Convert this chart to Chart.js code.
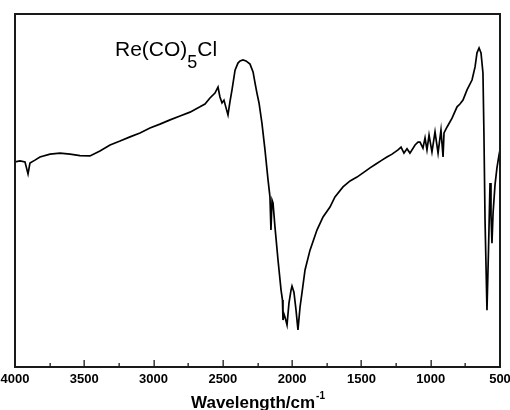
<!DOCTYPE html>
<html>
<head>
<meta charset="utf-8">
<script src="https://cdn.jsdelivr.net/npm/chart.js@4"></script>
<style>
  body { margin: 0; background: #fff; overflow: hidden; }
  canvas { display: block; }
</style>
</head>
<body>
<canvas id="myChart" width="510" height="410"></canvas>
<script>
// IR spectrum of Re(CO)5Cl
const wavenumber = [4000, 3964, 3928, 3906, 3892, 3856, 3820, 3747, 3675, 3603, 3531, 3459, 3387, 3314, 3242, 3170, 3098, 3026, 2954, 2881,
  2809, 2737, 2665, 2629, 2593, 2557, 2535, 2521, 2506, 2492, 2477, 2463, 2449, 2434, 2412, 2391, 2376, 2355, 2333, 2304,
  2282, 2268, 2254, 2239, 2218, 2196, 2174, 2160, 2153, 2145, 2138, 2124, 2102, 2080, 2070, 2066, 2059, 2052, 2037, 2023,
  2008, 2001, 1987, 1972, 1958, 1943, 1929, 1907, 1871, 1821, 1777, 1727, 1691, 1633, 1582, 1532, 1481, 1438, 1395, 1352,
  1316, 1279, 1236, 1214, 1193, 1171, 1150, 1113, 1092, 1077, 1056, 1041, 1027, 1012, 991, 969, 947, 926, 911, 904,
  882, 846, 810, 789, 767, 738, 702, 680, 666, 651, 637, 623, 616, 608, 594, 583, 572, 565, 558, 550,
  536, 522, 507, 500];
const transmittance = [58.1, 58.4, 58.1, 54.7, 57.8, 58.6, 59.5, 60.3, 60.6, 60.3, 59.9, 59.8, 61.2, 62.9, 64.0, 65.2, 66.3, 67.7, 68.8, 70.0,
  71.1, 72.2, 73.7, 74.5, 76.2, 77.6, 79.3, 76.5, 74.8, 75.6, 73.4, 71.4, 75.1, 78.5, 84.1, 86.1, 86.7, 87.0, 86.7, 85.8,
  83.6, 80.5, 77.6, 74.8, 69.1, 61.5, 53.0, 48.2, 38.8, 47.3, 46.5, 39.7, 30.3, 21.8, 19.0, 13.3, 15.0, 14.2, 11.9, 18.1,
  21.8, 22.9, 21.2, 16.1, 10.5, 17.0, 21.0, 27.5, 33.1, 38.8, 42.5, 45.3, 48.2, 51.0, 52.7, 53.8, 55.2, 56.4, 57.5, 58.6,
  59.5, 60.3, 61.5, 62.3, 60.6, 61.8, 60.6, 62.9, 63.7, 63.7, 62.0, 64.9, 61.5, 65.7, 60.9, 66.6, 60.6, 67.1, 59.5, 66.3,
  68.0, 70.5, 73.7, 74.5, 75.6, 78.5, 81.3, 85.0, 89.0, 90.4, 89.0, 83.3, 66.3, 41.6, 16.1, 33.1, 52.1, 43.1, 35.1, 43.6,
  51.6, 56.4, 60.1, 61.5];

const majorTicks = [4000, 3500, 3000, 2500, 2000, 1500, 1000, 500];
const minorTicks = [3750, 3250, 2750, 2250, 1750, 1250, 750];
const tickLabels = ['4000', '3500', '3000', '2500', '2000', '1500', '1000', '500'];

const FONT = '"Liberation Sans", Arial, sans-serif';

// frame, inward ticks, labels and the text drawn on top
const decorations = {
  id: 'decorations',
  afterDraw(chart) {
    const ctx = chart.ctx;
    const a = chart.chartArea;
    const x = chart.scales.x;
    ctx.save();
    ctx.fillStyle = '#1a1a1a';
    const L = Math.round(a.left), R = Math.round(a.right), T = Math.round(a.top), B = Math.round(a.bottom);
    ctx.fillRect(L - 1, T - 1, R - L + 2, 2);
    ctx.fillRect(L - 1, B - 1, R - L + 2, 2);
    ctx.fillRect(L - 1, T - 1, 2, B - T + 2);
    ctx.fillRect(R - 1, T - 1, 2, B - T + 2);

    majorTicks.forEach(v => {
      const px = Math.round(x.getPixelForValue(v));
      ctx.fillRect(px - 0.5, B - 7, 1.3, 7);
    });
    minorTicks.forEach(v => {
      const px = Math.round(x.getPixelForValue(v));
      ctx.fillRect(px - 0.5, B - 4, 1.3, 4);
    });

    ctx.fillStyle = '#000';
    ctx.font = 'bold 13px ' + FONT;
    ctx.textAlign = 'center';
    ctx.textBaseline = 'alphabetic';
    majorTicks.forEach((v, i) => {
      ctx.fillText(tickLabels[i], x.getPixelForValue(v), B + 16);
    });

    // axis title with superscript
    const main = 'Wavelength/cm';
    const sup = '-1';
    ctx.font = 'bold 17px ' + FONT;
    const w1 = ctx.measureText(main).width;
    ctx.font = 'bold 10px ' + FONT;
    const w2 = ctx.measureText(sup).width;
    const sx = (a.left + a.right) / 2 - (w1 + w2) / 2;
    ctx.textAlign = 'left';
    ctx.font = 'bold 17px ' + FONT;
    ctx.fillText(main, sx, 408);
    ctx.font = 'bold 10px ' + FONT;
    ctx.fillText(sup, sx + w1 + 1, 399);

    // compound label
    ctx.font = '21px ' + FONT;
    let tx = 115;
    ctx.fillText('Re(CO)', tx, 56);
    tx += ctx.measureText('Re(CO)').width;
    ctx.font = '18px ' + FONT;
    ctx.fillText('5', tx, 68);
    tx += ctx.measureText('5').width;
    ctx.font = '21px ' + FONT;
    ctx.fillText('Cl', tx, 56);
    ctx.restore();
  }
};

const ctx = document.getElementById('myChart').getContext('2d');
const chart = new Chart(ctx, {
  type: 'line',
  data: {
    datasets: [{
      data: wavenumber.map((w, i) => ({ x: w, y: transmittance[i] })),
      borderColor: '#000',
      borderWidth: 1.7,
      pointRadius: 0,
      tension: 0,
      fill: false
    }]
  },
  options: {
    responsive: false,
    animation: false,
    devicePixelRatio: 1,
    layout: { padding: { left: 15, right: 10, top: 14, bottom: 43 } },
    plugins: { legend: { display: false }, tooltip: { enabled: false } },
    scales: {
      x: { type: 'linear', reverse: true, min: 500, max: 4000, display: false },
      y: { min: 0, max: 100, display: false }
    }
  },
  plugins: [decorations]
});
</script>
</body>
</html>
